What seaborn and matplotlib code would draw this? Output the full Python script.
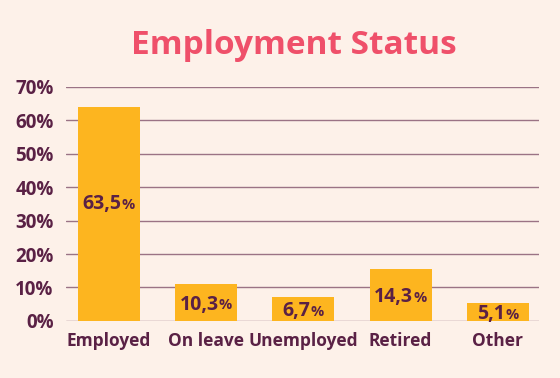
import matplotlib.pyplot as plt
import seaborn as sns
import pandas as pd

# data
categories = ["Employed", "On leave", "Unemployed", "Retired", "Other"]
bar_heights = [64.0, 11.1, 7.1, 15.5, 5.5]
value_labels = ["63,5", "10,3", "6,7", "14,3", "5,1"]
y_ticks = [0, 10, 20, 30, 40, 50, 60, 70]

bg = "#fdf1e9"
bar_color = "#fdb51f"
text_color = "#5a2145"
title_color = "#ef506a"
grid_color = "#9b7385"

sns.set_theme(style="white")
plt.rcParams["font.family"] = ["Open Sans", "DejaVu Sans"]

df = pd.DataFrame({"status": categories, "share": bar_heights})

fig = plt.figure(figsize=(5.6, 3.78), dpi=100, facecolor=bg)
ax = fig.add_axes([0.118, 0.151, 0.844, 0.619])
ax.set_facecolor(bg)

sns.barplot(data=df, x="status", y="share", color=bar_color, saturation=1,
            width=0.64, linewidth=0, ax=ax, zorder=3)

ax.set_ylim(0, 70)
ax.set_xlim(-0.44, 4.42)
ax.set_yticks(y_ticks)
ax.set_yticklabels([f"{t}%" for t in y_ticks])
ax.yaxis.grid(True, color=grid_color, linewidth=1, zorder=0)
ax.set_axisbelow(True)
for s in ax.spines.values():
    s.set_visible(False)
ax.tick_params(axis="both", length=0, colors=text_color)
ax.tick_params(axis="y", pad=9)
ax.tick_params(axis="x", pad=8)
for lab in ax.get_yticklabels():
    lab.set_fontsize(13.5)
    lab.set_fontweight("bold")
    lab.set_color(text_color)
for lab in ax.get_xticklabels():
    lab.set_fontsize(12.5)
    lab.set_fontweight("bold")
    lab.set_color(text_color)
ax.set_xlabel("")
ax.set_ylabel("")

# value labels inside the bars, with a smaller % sign
for i, (h, lbl) in enumerate(zip(bar_heights, value_labels)):
    y = max(h / 2 - 0.7, h - 29)
    t = ax.text(i - 0.07, y, lbl, ha="center", va="center", fontsize=14,
                fontweight="bold", color=text_color, zorder=5)
    ax.annotate("%", xy=(1, 0.12), xycoords=t, va="bottom", ha="left",
                fontsize=10.5, fontweight="bold", color=text_color, zorder=5)

fig.text(0.525, 0.88, "Employment Status", ha="center", va="center",
         fontsize=24, fontweight="bold", color=title_color)

plt.savefig("out.png", dpi=100, facecolor=bg)
